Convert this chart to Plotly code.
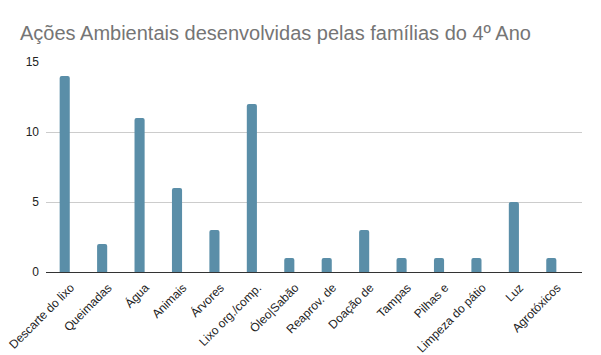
import plotly.graph_objects as go

categories = ["Descarte do lixo", "Queimadas", "Água", "Animais", "Árvores",
              "Lixo org./comp.", "Óleo|Sabão", "Reaprov. de", "Doação de",
              "Tampas", "Pilhas e", "Limpeza do pátio", "Luz", "Agrotóxicos"]
values = [14, 2, 11, 6, 3, 12, 1, 1, 3, 1, 1, 1, 5, 1]
y_ticks = [0, 5, 10, 15]

title_text = "Ações Ambientais desenvolvidas pelas famílias do 4º Ano"

fig = go.Figure(go.Bar(
    x=categories, y=values,
    marker=dict(color="#5a8ea8", line=dict(width=0)),
    width=0.27,
))

fig.update_layout(
    width=601, height=355,
    margin=dict(l=46, r=19, t=62, b=83, autoexpand=False),
    paper_bgcolor="white", plot_bgcolor="white",
    barcornerradius=2,
    title=dict(text=title_text, x=20/601, xanchor="left", xref="container",
               y=1 - 33/355, yanchor="middle", yref="container",
               font=dict(family="Liberation Sans, Arial", size=20, color="#757575")),
    showlegend=False,
    font=dict(family="Liberation Sans, Arial", size=12, color="#222222"),
)

fig.update_xaxes(
    range=[-0.5, 13.82], tickangle=-45, showgrid=False, automargin=False,
    showline=True, linecolor="#333333", linewidth=1,
    ticks="", tickfont=dict(size=12, color="#222222"),
    ticklabelshift=6, ticklabelstandoff=3,
)
fig.update_yaxes(
    range=[0, 15], tickvals=y_ticks, showgrid=True, gridcolor="#cccccc",
    zeroline=False, ticks="", tickfont=dict(size=12, color="#222222"),
    ticklabelstandoff=6, automargin=False,
)

fig.write_html("out.html", config={"displayModeBar": False},
               post_script="document.body.style.margin='0';document.body.style.overflow='hidden';")
